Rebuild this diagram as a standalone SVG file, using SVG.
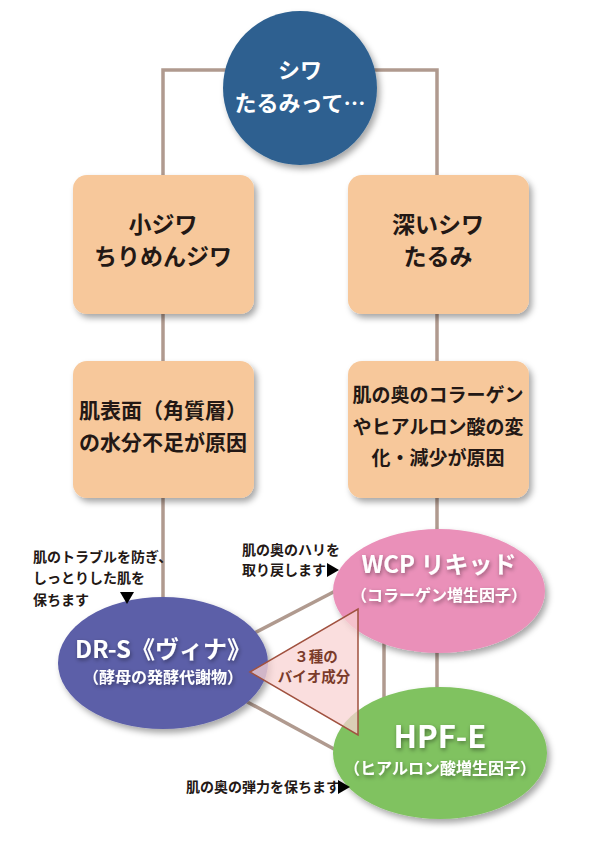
<svg xmlns="http://www.w3.org/2000/svg" width="595" height="842" viewBox="0 0 595 842">
<defs>
<filter id="sh" x="-20%" y="-20%" width="150%" height="150%">
<feDropShadow dx="3" dy="4" stdDeviation="3" flood-color="#000" flood-opacity="0.35"/>
</filter>
<filter id="ts" x="-10%" y="-30%" width="120%" height="160%">
<feDropShadow dx="1" dy="2" stdDeviation="2" flood-color="#000" flood-opacity="0.4"/>
</filter>
<style>
.ln{stroke:#b09a8f;stroke-width:3.5;fill:none}
.box{fill:#f7c89b;filter:url(#sh)}
.t{font-family:"Noto Sans CJK JP","Noto Sans",sans-serif;font-weight:bold;text-anchor:middle}
.bk{fill:#231815}
.wh{fill:#fff}
.ann{font-family:"Noto Sans CJK JP","Noto Sans",sans-serif;font-weight:bold;font-size:14px;fill:#231815}
</style>
</defs>
<rect width="595" height="842" fill="#fff"/>
<g id="connectors">
<polyline class="ln" points="163,175 163,70 437,70 437,175"/>
<line class="ln" x1="163" y1="314" x2="163" y2="361"/>
<line class="ln" x1="437" y1="314" x2="437" y2="361"/>
<line class="ln" x1="163" y1="498" x2="163" y2="600"/>
<line class="ln" x1="437" y1="498" x2="437" y2="535"/>
<line class="ln" x1="384" y1="640" x2="384" y2="700"/>
<line class="ln" x1="437" y1="640" x2="437" y2="700"/>
<line class="ln" x1="245" y1="638" x2="345" y2="586"/>
<line class="ln" x1="240" y1="698" x2="345" y2="755"/>
</g>
<g id="top">
<circle cx="300" cy="88" r="77" fill="#2e6190" filter="url(#sh)"/>
<text class="t wh" x="300" y="78" font-size="22">シワ</text>
<text class="t wh" x="300" y="111" font-size="22">たるみって…</text>
</g>
<g id="box-small">
<rect class="box" x="73" y="175" width="181" height="139" rx="14"/>
<text class="t bk" x="163" y="233" font-size="23">小ジワ</text>
<text class="t bk" x="163" y="265" font-size="23">ちりめんジワ</text>
</g>
<g id="box-deep">
<rect class="box" x="348" y="175" width="181" height="139" rx="14"/>
<text class="t bk" x="438" y="233" font-size="23">深いシワ</text>
<text class="t bk" x="438" y="265" font-size="23">たるみ</text>
</g>
<g id="box-cause1">
<rect class="box" x="73" y="361" width="181" height="137" rx="14"/>
<text class="t bk" x="163" y="418" font-size="21">肌表面（角質層）</text>
<text class="t bk" x="163" y="450" font-size="21">の水分不足が原因</text>
</g>
<g id="box-cause2">
<rect class="box" x="348" y="361" width="181" height="137" rx="14"/>
<text class="t bk" x="438" y="402" font-size="19">肌の奥のコラーゲン</text>
<text class="t bk" x="438" y="434" font-size="19">やヒアルロン酸の変</text>
<text class="t bk" x="438" y="465" font-size="19">化・減少が原因</text>
</g>
<g id="drs">
<ellipse cx="163" cy="663" rx="105" ry="66" fill="#5c5fa8" filter="url(#sh)"/>
<g filter="url(#ts)">
<text class="t wh" x="163" y="658" font-size="24">DR-S《ヴィナ》</text>
<text class="t wh" x="163" y="683" font-size="16">（酵母の発酵代謝物）</text>
</g>
</g>
<g id="wcp">
<ellipse cx="439" cy="591" rx="106" ry="62" fill="#ea90b9" filter="url(#sh)"/>
<g filter="url(#ts)">
<text class="t wh" x="439" y="573" font-size="24">WCP リキッド</text>
<text class="t wh" x="439" y="601" font-size="16">（コラーゲン増生因子）</text>
</g>
</g>
<g id="hpf">
<ellipse cx="440" cy="753" rx="107" ry="66" fill="#80c261" filter="url(#sh)"/>
<g filter="url(#ts)">
<text class="t wh" x="440" y="748" font-size="31">HPF-E</text>
<text class="t wh" x="440" y="774" font-size="16">（ヒアルロン酸増生因子）</text>
</g>
</g>
<g id="triangle">
<polygon points="250,672 358,609 358,735" fill="#f8d3d3" fill-opacity="0.75" stroke="#a0513f" stroke-width="1.5"/>
<text class="t" x="316" y="662" font-size="14.5" fill="#7a3b2a">３種の</text>
<text class="t" x="314" y="682" font-size="14.5" fill="#7a3b2a">バイオ成分</text>
</g>
<g id="notes">
<text class="ann" x="33" y="562">肌のトラブルを防ぎ、</text>
<text class="ann" x="33" y="583">しっとりした肌を</text>
<text class="ann" x="33" y="605">保ちます</text>
<polygon points="120,592 134,592 127,604" fill="#000"/>
<text class="ann" x="242" y="555">肌の奥のハリを</text>
<text class="ann" x="242" y="575">取り戻します</text>
<polygon points="327,563 327,577 339,570" fill="#000"/>
<text class="ann" x="186" y="792">肌の奥の弾力を保ちます</text>
<polygon points="338,780 338,794 350,787" fill="#000"/>
</g>
</svg>
